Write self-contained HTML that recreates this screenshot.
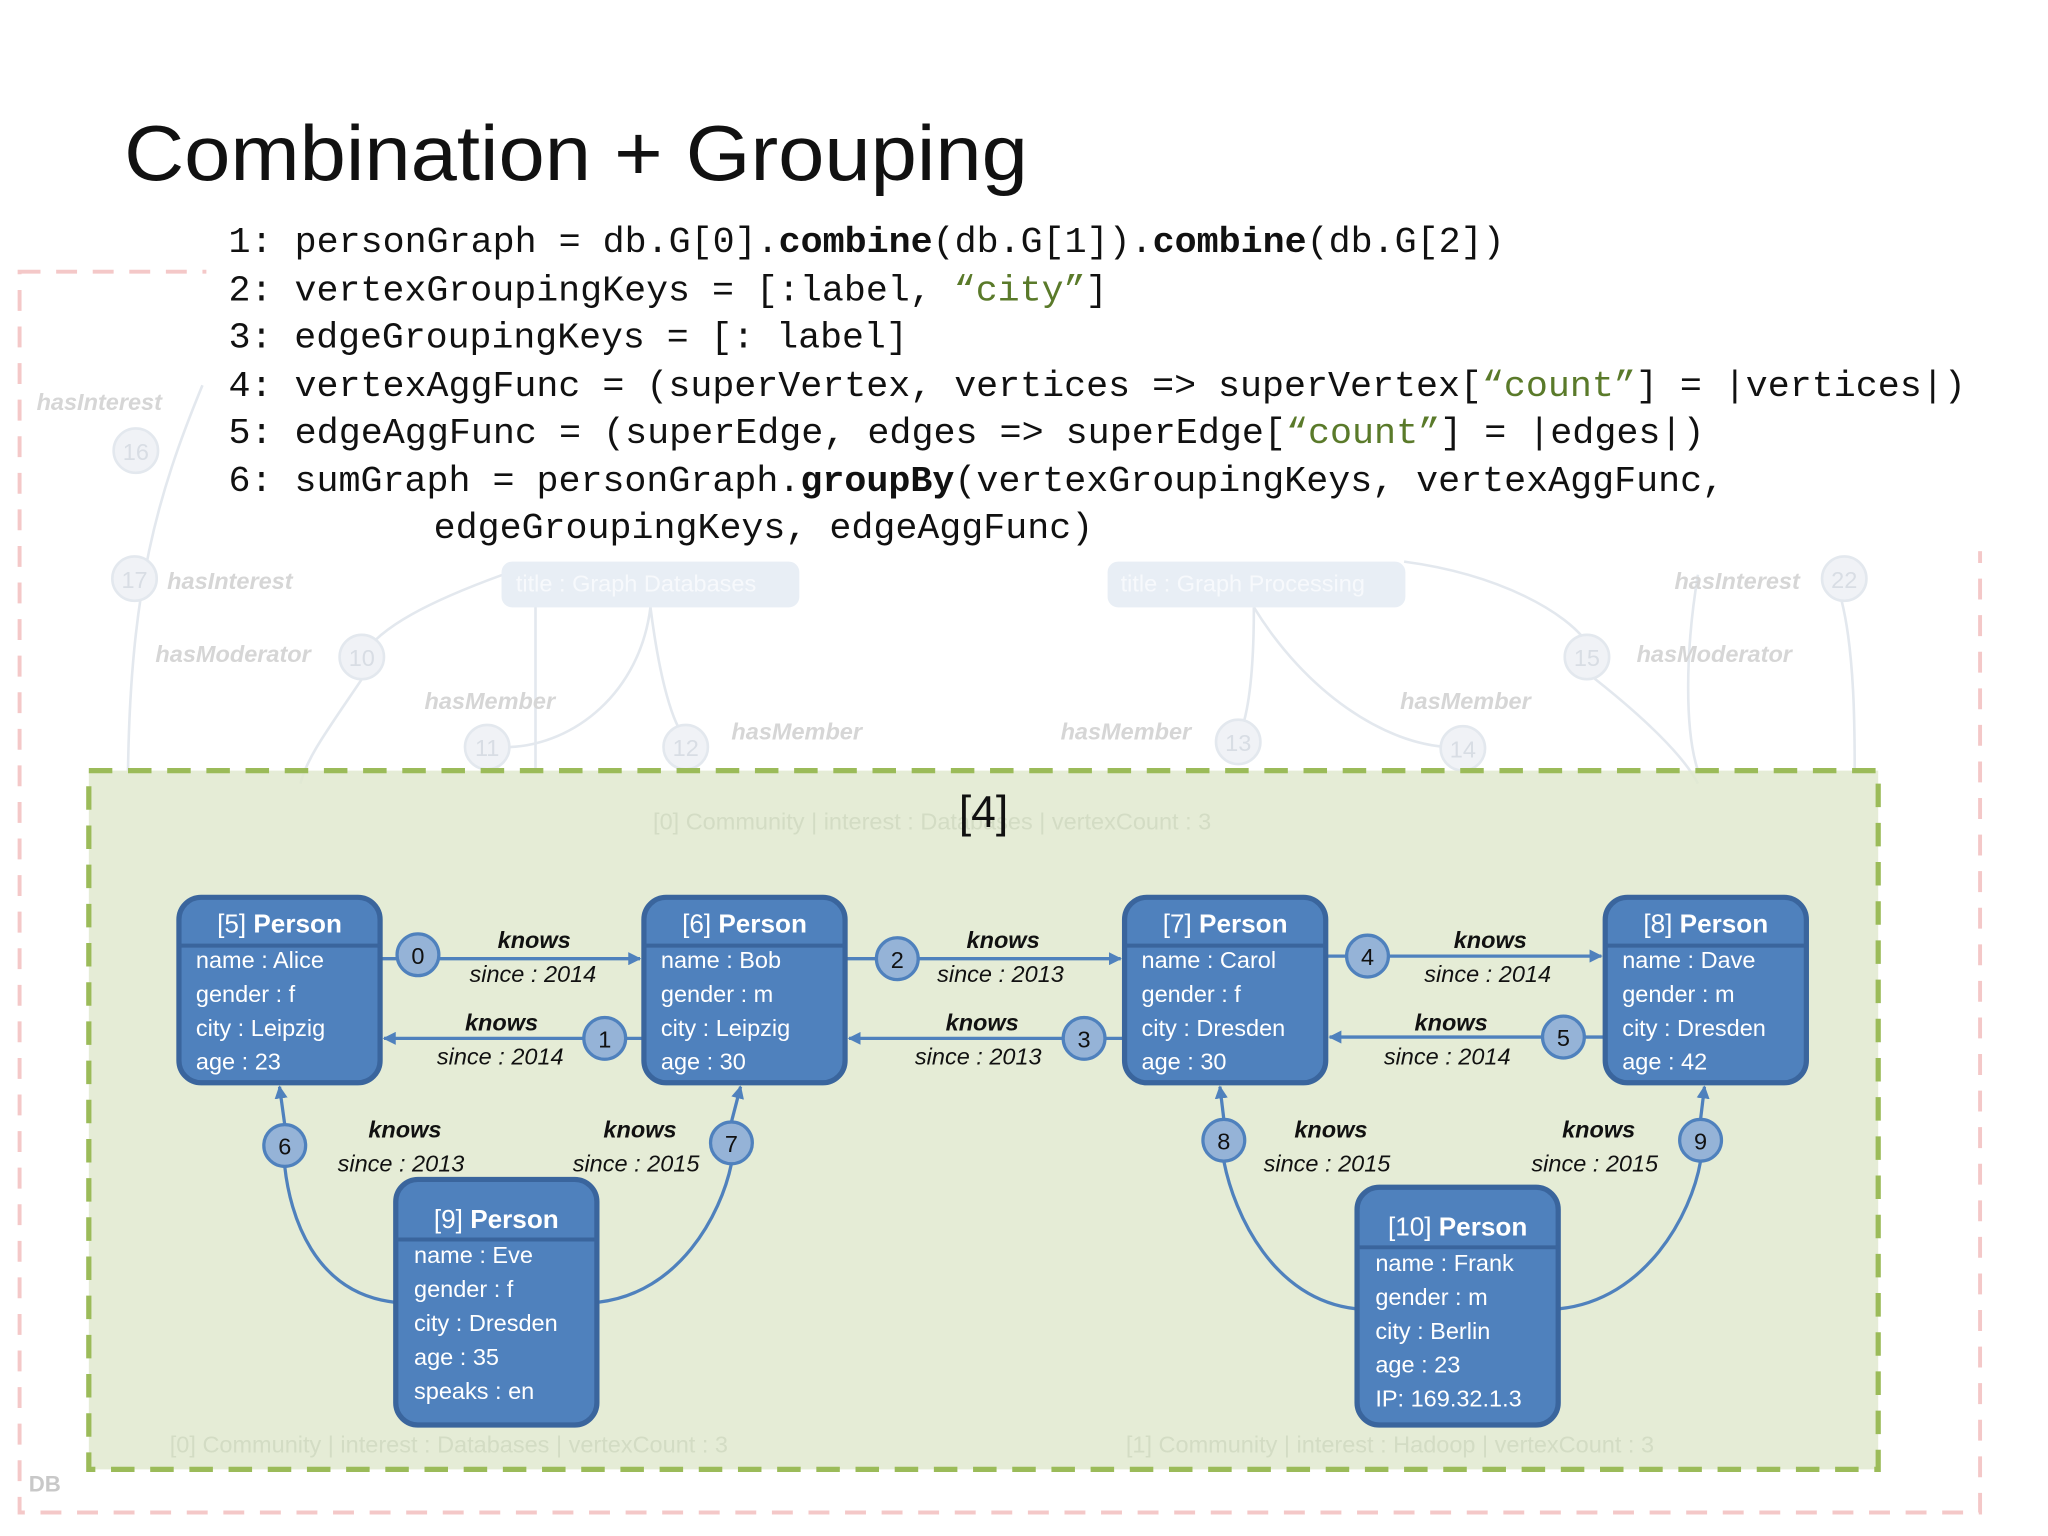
<!DOCTYPE html>
<html><head><meta charset="utf-8"><style>
html,body{margin:0;padding:0;background:#fff;width:2048px;height:1536px;overflow:hidden}
svg{display:block}
.code{font-family:"Liberation Mono",monospace;font-size:28px;fill:#111}
.str{fill:#5a7a2a}
.hd{font-family:"Liberation Sans",sans-serif;font-size:20px;fill:#fff}
.pr{font-family:"Liberation Sans",sans-serif;font-size:18px;fill:#fff}
.kn{font-family:"Liberation Sans",sans-serif;font-size:18px;font-weight:bold;font-style:italic;fill:#111}
.sn{font-family:"Liberation Sans",sans-serif;font-size:18px;font-style:italic;fill:#111}
.cn{font-family:"Liberation Sans",sans-serif;font-size:18px;fill:#111}
.fd{font-family:"Liberation Sans",sans-serif;font-size:18px;font-style:italic;font-weight:bold;fill:#d6d6d6}
.fc{font-family:"Liberation Sans",sans-serif;font-size:18px;fill:#dde2e8}
.fg{font-family:"Liberation Sans",sans-serif;font-size:18px;fill:#d3dcc4}
</style></head><body>
<svg width="2048" height="1536" viewBox="0 0 1568 1176" xmlns="http://www.w3.org/2000/svg">
<defs>
<marker id="ah" markerWidth="10" markerHeight="10" refX="9" refY="5" orient="auto" markerUnits="userSpaceOnUse"><path d="M0,0 L10,5 L0,10 z" fill="#4f81bd"/></marker>
</defs>
<!-- pink DB box -->
<rect x="15" y="208" width="1501" height="950" fill="none" stroke="#f4c8c8" stroke-width="3" stroke-dasharray="16 12"/>
<text x="22" y="1142" font-family="Liberation Sans,sans-serif" font-size="17" font-weight="bold" fill="#c8c8c8">DB</text>
<!-- faded background graph -->
<g fill="none" stroke="#e3e8ee" stroke-width="2">
<path d="M155,295 C120,380 100,450 98,590"/>
<path d="M410,440 L410,590"/>
<path d="M385,440 C330,460 290,480 277,503"/>
<path d="M277,520 C250,560 235,580 230,600"/>
<path d="M498,465 C490,530 440,570 390,572"/>
<path d="M498,465 C505,520 515,555 525,565"/>
<path d="M960,465 C960,520 955,550 948,565"/>
<path d="M960,465 C1000,530 1060,570 1110,572"/>
<path d="M1075,430 C1150,440 1200,470 1215,492"/>
<path d="M1215,515 C1260,550 1290,580 1300,600"/>
<path d="M1300,440 C1290,500 1290,560 1300,590"/>
<path d="M1410,460 C1420,500 1420,560 1420,590"/>
</g>
<g fill="#f0f2f6" stroke="#e3e8ee" stroke-width="2">
<circle cx="104" cy="345" r="17"/><circle cx="103" cy="443" r="17"/><circle cx="277" cy="503" r="17"/>
<circle cx="373" cy="572" r="17"/><circle cx="525" cy="572" r="17"/><circle cx="948" cy="568" r="17"/>
<circle cx="1120" cy="573" r="17"/><circle cx="1215" cy="503" r="17"/><circle cx="1412" cy="443" r="17"/>
</g>
<g font-family="Liberation Sans,sans-serif" font-size="18" fill="#d8dde4" text-anchor="middle">
<text x="104" y="352">16</text><text x="103" y="450">17</text><text x="277" y="510">10</text><text x="373" y="579">11</text><text x="525" y="579">12</text><text x="948" y="575">13</text><text x="1120" y="580">14</text><text x="1215" y="510">15</text><text x="1412" y="450">22</text>
</g>
<text class="fd" x="28" y="314">hasInterest</text>
<text class="fd" x="128" y="451">hasInterest</text>
<text class="fd" x="119" y="507">hasModerator</text>
<text class="fd" x="325" y="543">hasMember</text>
<text class="fd" x="560" y="566">hasMember</text>
<text class="fd" x="812" y="566">hasMember</text>
<text class="fd" x="1072" y="543">hasMember</text>
<text class="fd" x="1282" y="451">hasInterest</text>
<text class="fd" x="1253" y="507">hasModerator</text>
<rect x="384" y="430" width="228" height="35" rx="8" fill="#e8eef5"/>
<text class="fc" x="395" y="453" fill="#f4f6fa" style="fill:#f7f9fc">title : Graph Databases</text>
<rect x="848" y="430" width="228" height="35" rx="8" fill="#e8eef5"/>
<text class="fc" x="858" y="453" style="fill:#f7f9fc">title : Graph Processing</text>
<!-- white area behind code -->
<rect x="158" y="150" width="1400" height="272" fill="#fff"/>
<!-- green panel -->
<rect x="68" y="590" width="1370" height="535" fill="#e0e9cf" fill-opacity="0.85" stroke="#9bbb59" stroke-width="4" stroke-dasharray="18 12"/>
<text class="fg" x="500" y="635">[0] Community | interest : Databases | vertexCount : 3</text>
<text class="fg" x="130" y="1112">[0] Community | interest : Databases | vertexCount : 3</text>
<text class="fg" x="862" y="1112">[1] Community | interest : Hadoop | vertexCount : 3</text>
<text x="753" y="633" text-anchor="middle" font-family="Liberation Sans,sans-serif" font-size="34" fill="#111">[4]</text>
<!-- title -->
<text x="95" y="138" font-family="Liberation Sans,sans-serif" font-size="60" fill="#111" textLength="692" lengthAdjust="spacingAndGlyphs">Combination + Grouping</text>
<!-- code -->
<text class="code" x="175" y="193" textLength="977" lengthAdjust="spacingAndGlyphs">1: personGraph = db.G[0].<tspan font-weight="bold">combine</tspan>(db.G[1]).<tspan font-weight="bold">combine</tspan>(db.G[2])</text>
<text class="code" x="175" y="230" textLength="673" lengthAdjust="spacingAndGlyphs">2: vertexGroupingKeys = [:label, <tspan class="str">“city”</tspan>]</text>
<text class="code" x="175" y="266" textLength="520" lengthAdjust="spacingAndGlyphs">3: edgeGroupingKeys = [: label]</text>
<text class="code" x="175" y="303" textLength="1330" lengthAdjust="spacingAndGlyphs">4: vertexAggFunc = (superVertex, vertices =&gt; superVertex[<tspan class="str">“count”</tspan>] = |vertices|)</text>
<text class="code" x="175" y="339" textLength="1130" lengthAdjust="spacingAndGlyphs">5: edgeAggFunc = (superEdge, edges =&gt; superEdge[<tspan class="str">“count”</tspan>] = |edges|)</text>
<text class="code" x="175" y="376" textLength="1145" lengthAdjust="spacingAndGlyphs">6: sumGraph = personGraph.<tspan font-weight="bold">groupBy</tspan>(vertexGroupingKeys, vertexAggFunc,</text>
<text class="code" x="332" y="412" textLength="505" lengthAdjust="spacingAndGlyphs">edgeGroupingKeys, edgeAggFunc)</text>
<!-- edges -->
<g fill="none" stroke="#4f81bd" stroke-width="2.5">
<path d="M292,734 L490,734" marker-end="url(#ah)"/>
<path d="M492,795 L294,795" marker-end="url(#ah)"/>
<path d="M648,734 L858,734" marker-end="url(#ah)"/>
<path d="M860,795 L650,795" marker-end="url(#ah)"/>
<path d="M1016,732 L1226,732" marker-end="url(#ah)"/>
<path d="M1228,794 L1018,794" marker-end="url(#ah)"/>
<path d="M302,997 C240,990 222,930 218,893"/>
<path d="M218,861 L214,832" marker-end="url(#ah)"/>
<path d="M458,997 C520,990 552,930 560,891"/>
<path d="M560,859 L567,832" marker-end="url(#ah)"/>
<path d="M1038,1002 C975,995 945,930 937,889"/>
<path d="M937,857 L934,832" marker-end="url(#ah)"/>
<path d="M1194,1002 C1260,995 1295,930 1302,889"/>
<path d="M1302,857 L1305,832" marker-end="url(#ah)"/>
</g>
<!-- circles -->
<g fill="#95b3d7" stroke="#4f81bd" stroke-width="2.5">
<circle cx="320" cy="731" r="16"/><circle cx="463" cy="795" r="16"/><circle cx="687" cy="734" r="16"/><circle cx="830" cy="795" r="16"/>
<circle cx="1047" cy="732" r="16"/><circle cx="1197" cy="794" r="16"/><circle cx="218" cy="877" r="16"/><circle cx="560" cy="875" r="16"/>
<circle cx="937" cy="873" r="16"/><circle cx="1302" cy="873" r="16"/>
</g>
<g class="cn" text-anchor="middle">
<text class="cn" x="320" y="738">0</text><text class="cn" x="463" y="802">1</text><text class="cn" x="687" y="741">2</text><text class="cn" x="830" y="802">3</text>
<text class="cn" x="1047" y="739">4</text><text class="cn" x="1197" y="801">5</text><text class="cn" x="218" y="884">6</text><text class="cn" x="560" y="882">7</text>
<text class="cn" x="937" y="880">8</text><text class="cn" x="1302" y="880">9</text>
</g>
<g text-anchor="middle">
<text class="kn" x="409" y="726">knows</text><text class="sn" x="408" y="752">since : 2014</text>
<text class="kn" x="384" y="789">knows</text><text class="sn" x="383" y="815">since : 2014</text>
<text class="kn" x="768" y="726">knows</text><text class="sn" x="766" y="752">since : 2013</text>
<text class="kn" x="752" y="789">knows</text><text class="sn" x="749" y="815">since : 2013</text>
<text class="kn" x="1141" y="726">knows</text><text class="sn" x="1139" y="752">since : 2014</text>
<text class="kn" x="1111" y="789">knows</text><text class="sn" x="1108" y="815">since : 2014</text>
<text class="kn" x="310" y="871">knows</text><text class="sn" x="307" y="897">since : 2013</text>
<text class="kn" x="490" y="871">knows</text><text class="sn" x="487" y="897">since : 2015</text>
<text class="kn" x="1019" y="871">knows</text><text class="sn" x="1016" y="897">since : 2015</text>
<text class="kn" x="1224" y="871">knows</text><text class="sn" x="1221" y="897">since : 2015</text>
</g>
<!-- nodes -->
<g fill="#4f81bd" stroke="#3a659d" stroke-width="4">
<rect x="137" y="687" width="154" height="142" rx="17"/>
<rect x="493" y="687" width="154" height="142" rx="17"/>
<rect x="861" y="687" width="154" height="142" rx="17"/>
<rect x="1229" y="687" width="154" height="142" rx="17"/>
<rect x="303" y="903" width="154" height="188" rx="17"/>
<rect x="1039" y="909" width="154" height="182" rx="17"/>
</g>
<g stroke="#3a659d" stroke-width="3">
<line x1="137" y1="724" x2="291" y2="724"/><line x1="493" y1="724" x2="647" y2="724"/>
<line x1="861" y1="724" x2="1015" y2="724"/><line x1="1229" y1="724" x2="1383" y2="724"/>
<line x1="303" y1="949" x2="457" y2="949"/><line x1="1039" y1="955" x2="1193" y2="955"/>
</g>
<g text-anchor="middle">
<text class="hd" x="214" y="714">[5] <tspan font-weight="bold">Person</tspan></text>
<text class="hd" x="570" y="714">[6] <tspan font-weight="bold">Person</tspan></text>
<text class="hd" x="938" y="714">[7] <tspan font-weight="bold">Person</tspan></text>
<text class="hd" x="1306" y="714">[8] <tspan font-weight="bold">Person</tspan></text>
<text class="hd" x="380" y="940">[9] <tspan font-weight="bold">Person</tspan></text>
<text class="hd" x="1116" y="946">[10] <tspan font-weight="bold">Person</tspan></text>
</g>
<g class="pr">
<text class="pr" x="150" y="741">name : Alice</text><text class="pr" x="150" y="767">gender : f</text><text class="pr" x="150" y="793">city : Leipzig</text><text class="pr" x="150" y="819">age : 23</text>
<text class="pr" x="506" y="741">name : Bob</text><text class="pr" x="506" y="767">gender : m</text><text class="pr" x="506" y="793">city : Leipzig</text><text class="pr" x="506" y="819">age : 30</text>
<text class="pr" x="874" y="741">name : Carol</text><text class="pr" x="874" y="767">gender : f</text><text class="pr" x="874" y="793">city : Dresden</text><text class="pr" x="874" y="819">age : 30</text>
<text class="pr" x="1242" y="741">name : Dave</text><text class="pr" x="1242" y="767">gender : m</text><text class="pr" x="1242" y="793">city : Dresden</text><text class="pr" x="1242" y="819">age : 42</text>
<text class="pr" x="317" y="967">name : Eve</text><text class="pr" x="317" y="993">gender : f</text><text class="pr" x="317" y="1019">city : Dresden</text><text class="pr" x="317" y="1045">age : 35</text><text class="pr" x="317" y="1071">speaks : en</text>
<text class="pr" x="1053" y="973">name : Frank</text><text class="pr" x="1053" y="999">gender : m</text><text class="pr" x="1053" y="1025">city : Berlin</text><text class="pr" x="1053" y="1051">age : 23</text><text class="pr" x="1053" y="1077">IP: 169.32.1.3</text>
</g>
</svg>
</body></html>
